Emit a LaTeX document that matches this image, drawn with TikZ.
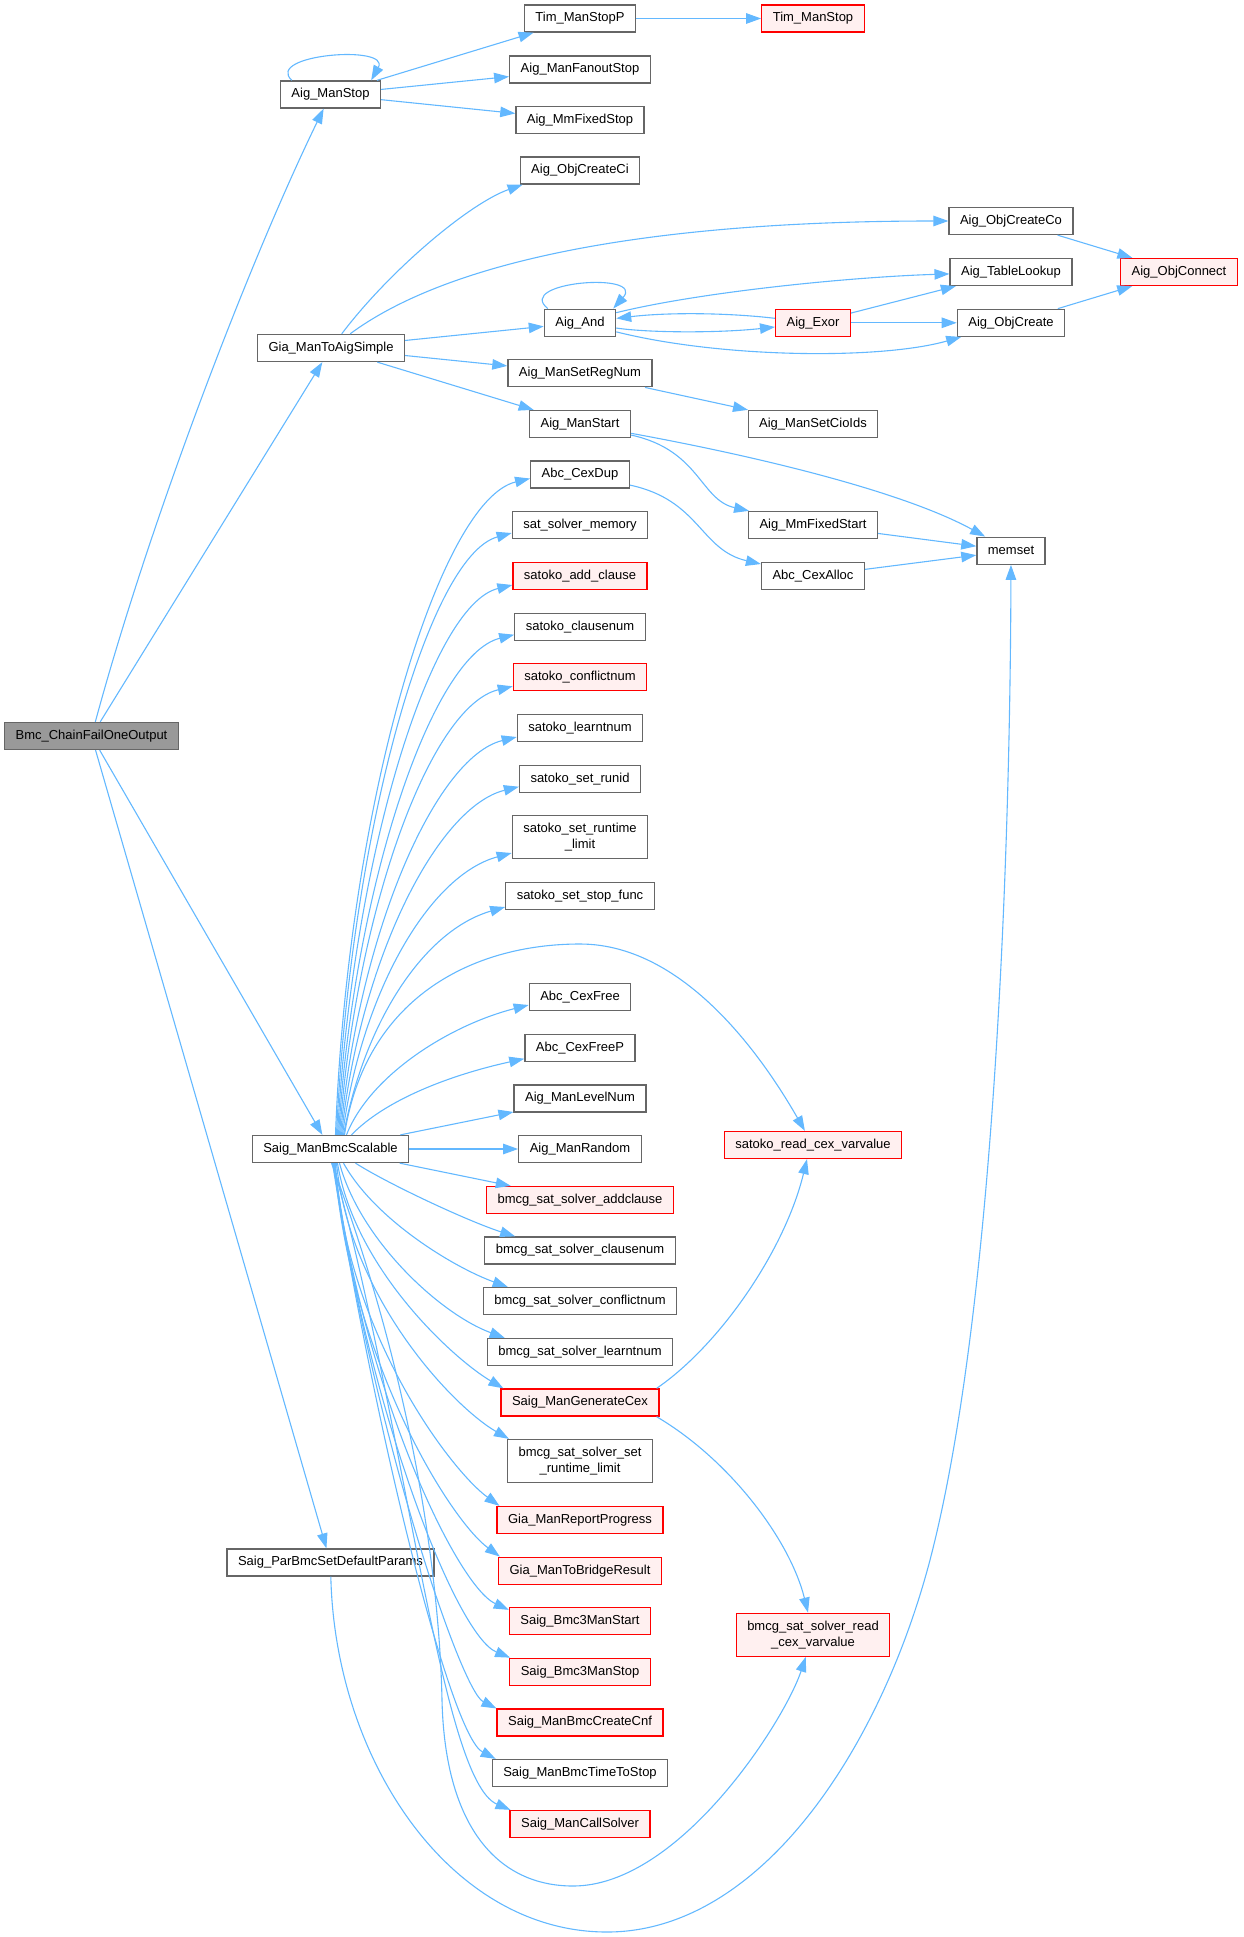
\documentclass[tikz,border=0pt]{standalone}
\usepackage{fontspec}
\setmainfont{Liberation Sans}
\usetikzlibrary{arrows.meta}
\definecolor{edgec}{HTML}{63B8FF}
\definecolor{bord}{HTML}{666666}
\definecolor{redb}{HTML}{FF0000}
\definecolor{redf}{HTML}{FFF0F0}
\definecolor{rootf}{HTML}{999999}
\begin{document}
\begin{tikzpicture}[x=1pt,y=-1pt,
  box/.style={draw=bord,fill=white,line width=1.3pt,inner xsep=11pt,inner ysep=0pt,
    minimum height=27pt,font=\fontsize{13pt}{16pt}\selectfont,text height=9.5pt,text depth=2.8pt},
  hot/.style={box,draw=redb,fill=redf},
  root/.style={box,fill=rootf},
  two/.style={align=center,minimum height=43pt,text height={},text depth={}},
  edge/.style={draw=edgec,line width=1.1pt,-{Triangle[length=15pt,width=10.5pt]}}]
\useasboundingbox (0,0) rectangle (1243,1937);
% nodes
\node[root] (Bmc) at (91.5,736) {Bmc\_ChainFailOneOutput};
\node[box] (AMS) at (330.5,94.5) {Aig\_ManStop};
\node[box] (Gia) at (331,348) {Gia\_ManToAigSimple};
\node[box] (S) at (330.5,1149) {Saig\_ManBmcScalable};
\node[box] (P) at (330.5,1562.5) {Saig\_ParBmcSetDefaultParams};
\node[box] (TSP) at (580,18.5) {Tim\_ManStopP};
\node[hot] (TMS) at (813,18.5) {Tim\_ManStop};
\node[box] (AFS) at (580,69.5) {Aig\_ManFanoutStop};
\node[box] (AMF) at (580,120) {Aig\_MmFixedStop};
\node[box] (ACi) at (580,170.5) {Aig\_ObjCreateCi};
\node[box] (ACo) at (1011,221) {Aig\_ObjCreateCo};
\node[box] (ATL) at (1011,272) {Aig\_TableLookup};
\node[hot] (AOC) at (1179,272) {Aig\_ObjConnect};
\node[box] (And) at (580,322.7) {Aig\_And};
\node[hot] (Exor) at (813,322.8) {Aig\_Exor};
\node[box] (OCr) at (1011,322.8) {Aig\_ObjCreate};
\node[box] (SRN) at (580,373.3) {Aig\_ManSetRegNum};
\node[box] (MSt) at (580,424) {Aig\_ManStart};
\node[box] (CIO) at (813,424) {Aig\_ManSetCioIds};
\node[box] (CDup) at (580,474.5) {Abc\_CexDup};
\node[box] (SSM) at (580,525) {sat\_solver\_memory};
\node[box] (MFSt) at (813,525) {Aig\_MmFixedStart};
\node[box] (mem) at (1011,550.7) {memset};
\node[hot] (SAC) at (580,576) {satoko\_add\_clause};
\node[box] (CAl) at (813,576) {Abc\_CexAlloc};
\node[box] (SCN) at (580,626.7) {satoko\_clausenum};
\node[hot] (SCF) at (580,677.3) {satoko\_conflictnum};
\node[box] (SLN) at (580,728) {satoko\_learntnum};
\node[box] (SRI) at (580,778.7) {satoko\_set\_runid};
\node[box,two] (SRL) at (580,837) {satoko\_set\_runtime\\\_limit};
\node[box] (SSF) at (580,896) {satoko\_set\_stop\_func};
\node[box] (CFr) at (580,997) {Abc\_CexFree};
\node[box] (CFP) at (580,1047.7) {Abc\_CexFreeP};
\node[box] (ALN) at (580,1098.5) {Aig\_ManLevelNum};
\node[box] (ARn) at (580,1149) {Aig\_ManRandom};
\node[hot] (SRC) at (813,1145) {satoko\_read\_cex\_varvalue};
\node[hot] (BAC) at (580,1200) {bmcg\_sat\_solver\_addclause};
\node[box] (BCN) at (580,1250.5) {bmcg\_sat\_solver\_clausenum};
\node[box] (BCF) at (580,1301) {bmcg\_sat\_solver\_conflictnum};
\node[box] (BLN) at (580,1352) {bmcg\_sat\_solver\_learntnum};
\node[hot] (GCx) at (580,1402.5) {Saig\_ManGenerateCex};
\node[box,two] (BRL) at (580,1461) {bmcg\_sat\_solver\_set\\\_runtime\_limit};
\node[hot] (GRP) at (580,1520) {Gia\_ManReportProgress};
\node[hot] (GTB) at (580,1570.7) {Gia\_ManToBridgeResult};
\node[hot] (B3S) at (580,1621) {Saig\_Bmc3ManStart};
\node[hot,two] (BRC) at (813,1634.7) {bmcg\_sat\_solver\_read\\\_cex\_varvalue};
\node[hot] (B3T) at (580,1671.8) {Saig\_Bmc3ManStop};
\node[hot] (BCC) at (580,1722.6) {Saig\_ManBmcCreateCnf};
\node[box] (BTS) at (580,1773) {Saig\_ManBmcTimeToStop};
\node[hot] (CSo) at (580,1824) {Saig\_ManCallSolver};
% edges from root
\draw[edge] (Bmc) .. controls (150,520) and (250,260) .. (AMS);
\draw[edge] (Bmc) -- (Gia);
\draw[edge] (Bmc) -- (S);
\draw[edge] (Bmc) -- (P);
% Aig_ManStop
\draw[edge] ([xshift=12pt]AMS.north west) .. controls +(-28,-26) and +(20,-36) .. ([xshift=-10pt]AMS.north east);
\draw[edge] (AMS) -- (TSP);
\draw[edge] (AMS) -- (AFS);
\draw[edge] (AMS) -- (AMF);
\draw[edge] (TSP) -- (TMS);
% Gia_ManToAigSimple
\draw[edge] (Gia) .. controls (390,270) and (470,203) .. ([xshift=3pt]ACi.south west);
\draw[edge] (Gia) .. controls (450,260) and (650,221) .. (ACo);
\draw[edge] (Gia) -- (And);
\draw[edge] (Gia) -- (SRN);
\draw[edge] (Gia) -- (MSt);
% Aig_And / Aig_Exor
\draw[edge] ([xshift=4pt]And.north west) .. controls +(-34,-27) and +(33,-37) .. ([xshift=-3pt]And.north east);
\draw[edge] ([yshift=10pt]And.east) .. controls (700,292) and (850,277) .. (ATL);
\draw[edge] (Exor) .. controls (730,313) and (670,312) .. (And);
\draw[edge] (And) .. controls (650,333) and (720,333) .. (Exor);
\draw[edge] (And) .. controls (720,358) and (880,360) .. (OCr);
\draw[edge] (Exor) -- (ATL);
\draw[edge] (Exor) -- (OCr);
\draw[edge] (ACo) -- (AOC);
\draw[edge] (OCr) -- (AOC);
\draw[edge] (SRN) -- (CIO);
\draw[edge] (MSt) .. controls (700,450) and (700,500) .. (MFSt);
\draw[edge] (MSt) .. controls (750,455) and (900,490) .. (mem);
\draw[edge] (MFSt) -- (mem);
\draw[edge] (CDup) .. controls (700,500) and (700,550) .. (CAl);
\draw[edge] (CAl) -- (mem);
\draw[edge] (P) .. controls (335,1760) and (450,1932) .. (607,1932) .. controls (760,1932) and (880,1750) .. (930,1560) .. controls (990,1330) and (1010,900) .. (mem);
% Saig_ManBmcScalable upward
\draw[edge] ([xshift=5pt]S.north) .. controls (348,800) and (440,500) .. ([yshift=-4pt]CDup.west);
\draw[edge] ([xshift=6pt]S.north) .. controls (350,835) and (428,556) .. ([yshift=-8pt]SSM.west);
\draw[edge] ([xshift=7pt]S.north) .. controls (352,860) and (430,605) .. ([yshift=-9pt]SAC.west);
\draw[edge] ([xshift=8pt]S.north) .. controls (354,885) and (432,655) .. ([yshift=-8pt]SCN.west);
\draw[edge] ([xshift=9pt]S.north) .. controls (356,910) and (430,706) .. ([yshift=-9pt]SCF.west);
\draw[edge] ([xshift=10pt]S.north) .. controls (358,935) and (435,757) .. ([yshift=-9pt]SLN.west);
\draw[edge] ([xshift=11pt]S.north) .. controls (360,960) and (437,807) .. ([yshift=-8pt]SRI.west);
\draw[edge] ([xshift=12pt]S.north) .. controls (362,990) and (430,875) .. ([yshift=-16pt]SRL.west);
\draw[edge] ([xshift=13pt]S.north) .. controls (365,1020) and (425,930) .. ([yshift=-11pt]SSF.west);
\draw[edge] ([xshift=14pt]S.north) .. controls (365,1000) and (470,944) .. (580,944) .. controls (690,944) and (770,1070) .. (SRC);
\draw[edge] ([xshift=16pt]S.north) .. controls (370,1075) and (450,1025) .. ([yshift=-8pt]CFr.west);
\draw[edge] ([xshift=21pt]S.north) .. controls (385,1100) and (450,1075) .. ([yshift=-11pt]CFP.west);
\draw[edge] (S) -- (ALN);
\draw[edge] (S) -- (ARn);
\draw[edge] (S) -- (BAC);
% Saig_ManBmcScalable downward
\draw[edge] ([xshift=25pt]S.south) .. controls (390,1185) and (470,1222) .. ([xshift=31pt]BCN.north west);
\draw[edge] ([xshift=13pt]S.south) .. controls (375,1220) and (455,1268) .. ([xshift=25pt]BCF.north west);
\draw[edge] ([xshift=9pt]S.south) .. controls (360,1240) and (440,1314) .. ([xshift=18pt]BLN.north west);
\draw[edge] ([xshift=7pt]S.south) .. controls (355,1270) and (455,1360) .. ([xshift=3pt]GCx.north west);
\draw[edge] ([xshift=6pt]S.south) .. controls (350,1300) and (455,1408) .. ([xshift=2pt]BRL.north west);
\draw[edge] ([xshift=5pt]S.south) .. controls (345,1330) and (450,1470) .. ([xshift=3pt]GRP.north west);
\draw[edge] ([xshift=4pt]S.south) .. controls (350,1360) and (450,1520) .. ([xshift=2pt]GTB.north west);
\draw[edge] ([xshift=4pt]S.south) .. controls (360,1380) and (455,1585) .. ([yshift=-3pt]B3S.north west);
\draw[edge] ([xshift=3pt]S.south) .. controls (365,1400) and (455,1635) .. ([xshift=1pt]B3T.north west);
\draw[edge] ([xshift=3pt]S.south) .. controls (370,1420) and (460,1690) .. (BCC.north west);
\draw[edge] ([xshift=2pt]S.south) .. controls (375,1430) and (450,1735) .. ([xshift=4pt]BTS.north west);
\draw[edge] ([xshift=2pt]S.south) .. controls (405,1420) and (440,1780) .. ([xshift=1pt]CSo.north west);
\draw[edge] ([xshift=1pt]S.south) .. controls (420,1400) and (440,1600) .. (442,1700) .. controls (445,1830) and (500,1886) .. (573,1886) .. controls (680,1886) and (785,1720) .. (BRC);
% Saig_ManGenerateCex
\draw[edge] ([xshift=-3pt]GCx.north east) .. controls (720,1345) and (785,1250) .. ([xshift=-6pt]SRC.south);
\draw[edge] ([xshift=-3pt]GCx.south east) .. controls (730,1460) and (790,1540) .. ([xshift=-5pt]BRC.north);
\end{tikzpicture}
\end{document}
